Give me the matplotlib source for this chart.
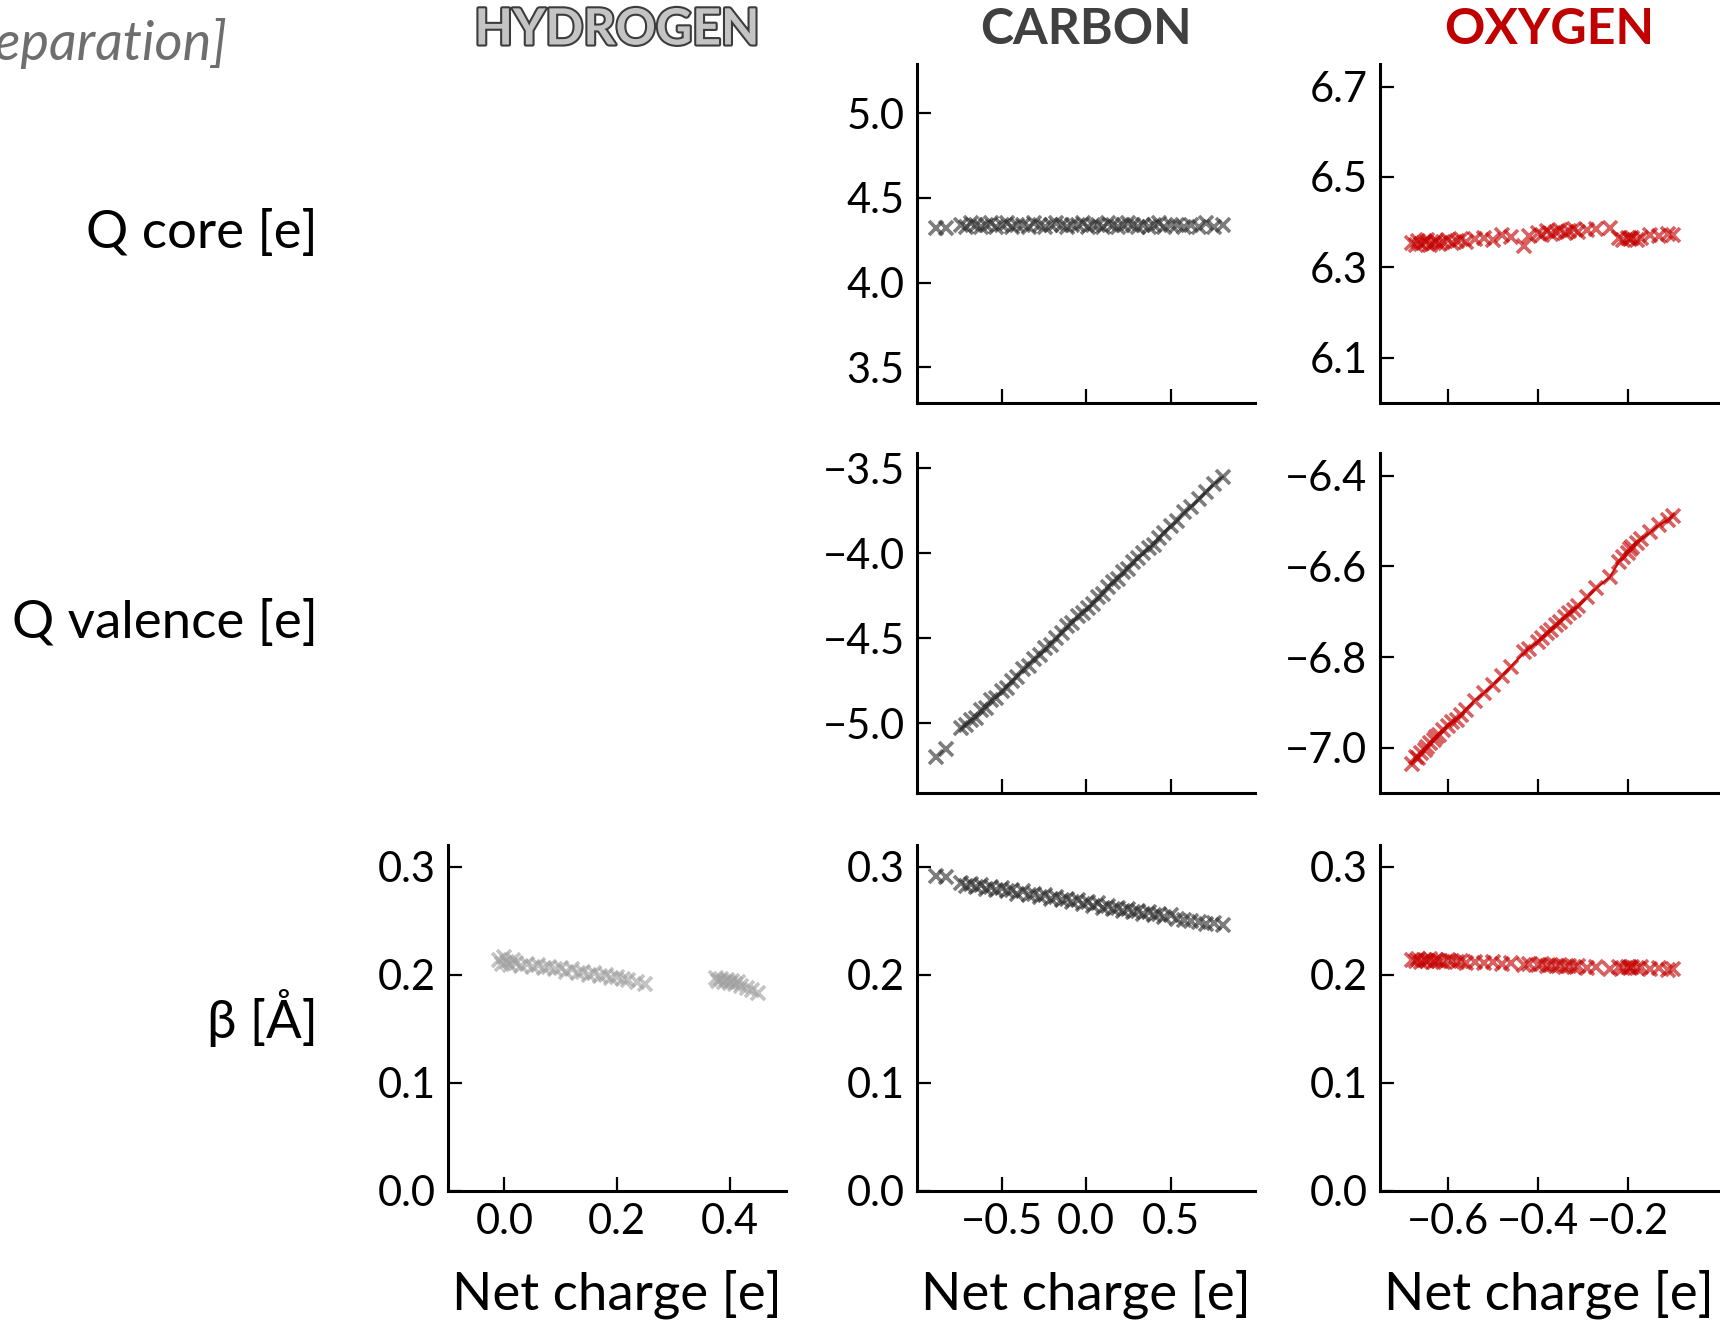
import matplotlib
matplotlib.use("Agg")
import matplotlib.pyplot as plt
import matplotlib.patheffects as pe

plt.rcParams['font.family'] = ['Lato', 'DejaVu Sans']
plt.rcParams['axes.unicode_minus'] = True

# ---- data ----
row_labels = ["Q core [e]", "Q valence [e]", "β [Å]"]
col_titles = ["HYDROGEN", "CARBON", "OXYGEN"]
xlabel = "Net charge [e]"

# hydrogen: only beta
h_q = [-0.01, -0.005, 0.0, 0.005, 0.01, 0.015, 0.02, 0.03, 0.04, 0.05, 0.06,
       0.07, 0.08, 0.09, 0.10, 0.11, 0.12, 0.13, 0.14, 0.15, 0.16,
       0.17, 0.18, 0.19, 0.20, 0.21, 0.22, 0.235, 0.25,
       0.375, 0.38, 0.385, 0.39, 0.395, 0.40, 0.405, 0.41, 0.415, 0.42,
       0.43, 0.44, 0.45]
h_beta = [0.214, 0.210, 0.216, 0.212, 0.209, 0.214, 0.211, 0.208, 0.210, 0.207, 0.209,
          0.206, 0.207, 0.205, 0.206, 0.203, 0.205, 0.202, 0.203, 0.200, 0.202,
          0.199, 0.200, 0.197, 0.198, 0.196, 0.195, 0.193, 0.191,
          0.197, 0.194, 0.196, 0.193, 0.195, 0.192, 0.194, 0.191, 0.193, 0.190,
          0.188, 0.186, 0.183]

# carbon
c_q = [-0.89, -0.83, -0.74, -0.71, -0.68, -0.65, -0.62, -0.59, -0.56, -0.53,
       -0.50, -0.47, -0.44, -0.41, -0.37, -0.34, -0.31, -0.27, -0.24, -0.21,
       -0.18, -0.14, -0.11, -0.08, -0.05, -0.02, 0.01, 0.04, 0.07, 0.10,
       0.13, 0.16, 0.19, 0.22, 0.25, 0.28, 0.31, 0.34, 0.37, 0.40,
       0.43, 0.46, 0.50, 0.54, 0.58, 0.62, 0.67, 0.71, 0.76, 0.81]
c_core = [4.32, 4.32, 4.34, 4.33, 4.35, 4.34, 4.33, 4.34, 4.35, 4.33,
          4.34, 4.35, 4.33, 4.34, 4.34, 4.33, 4.35, 4.34, 4.33, 4.34,
          4.35, 4.34, 4.33, 4.34, 4.34, 4.35, 4.33, 4.34, 4.34, 4.33,
          4.35, 4.34, 4.33, 4.34, 4.35, 4.34, 4.33, 4.34, 4.33, 4.34,
          4.35, 4.33, 4.34, 4.34, 4.33, 4.34, 4.33, 4.35, 4.33, 4.34]
c_val = [-5.20, -5.15, -5.03, -5.01, -4.98, -4.97, -4.92, -4.91, -4.86, -4.85,
         -4.81, -4.79, -4.75, -4.73, -4.68, -4.66, -4.62, -4.60, -4.56, -4.54,
         -4.50, -4.47, -4.43, -4.41, -4.37, -4.35, -4.32, -4.30, -4.26, -4.24,
         -4.20, -4.17, -4.15, -4.11, -4.09, -4.05, -4.03, -4.00, -3.97, -3.95,
         -3.91, -3.88, -3.84, -3.81, -3.76, -3.73, -3.68, -3.64, -3.59, -3.55]
c_beta = [0.291, 0.290, 0.285, 0.282, 0.284, 0.281, 0.283, 0.279, 0.281, 0.278,
          0.280, 0.277, 0.278, 0.275, 0.277, 0.274, 0.275, 0.272, 0.274, 0.270,
          0.272, 0.269, 0.270, 0.267, 0.269, 0.265, 0.267, 0.264, 0.266, 0.262,
          0.264, 0.261, 0.262, 0.259, 0.261, 0.258, 0.259, 0.256, 0.258, 0.255,
          0.256, 0.253, 0.255, 0.252, 0.251, 0.250, 0.249, 0.247, 0.248, 0.246]

# oxygen
o_q = [-0.68, -0.67, -0.665, -0.66, -0.65, -0.645, -0.64, -0.63, -0.625, -0.62,
       -0.61, -0.60, -0.59, -0.58, -0.57, -0.56,
       -0.54, -0.52, -0.50, -0.48, -0.46, -0.43, -0.42, -0.40, -0.39, -0.38,
       -0.37, -0.36, -0.35, -0.34, -0.33, -0.32, -0.31, -0.29, -0.27, -0.24,
       -0.22, -0.21, -0.20, -0.195, -0.19, -0.18, -0.17, -0.15, -0.13, -0.11, -0.10]
o_core = [6.355, 6.350, 6.358, 6.352, 6.356, 6.360, 6.350, 6.354, 6.358, 6.352,
          6.356, 6.360, 6.354, 6.358, 6.362, 6.356,
          6.362, 6.366, 6.360, 6.372, 6.368, 6.348, 6.370, 6.376, 6.372, 6.380,
          6.374, 6.378, 6.382, 6.376, 6.380, 6.384, 6.378, 6.382, 6.386, 6.388,
          6.364, 6.360, 6.366, 6.362, 6.364, 6.360, 6.366, 6.372, 6.370, 6.374, 6.372]
o_val = [-7.035, -7.020, -7.023, -7.012, -7.006, -6.998, -6.990, -6.984, -6.976, -6.972,
         -6.960, -6.952, -6.944, -6.938, -6.928, -6.916,
         -6.896, -6.880, -6.862, -6.842, -6.822, -6.790, -6.782, -6.766, -6.758, -6.748,
         -6.740, -6.730, -6.722, -6.712, -6.704, -6.696, -6.688, -6.668, -6.648, -6.624,
         -6.590, -6.580, -6.570, -6.562, -6.558, -6.548, -6.540, -6.525, -6.508, -6.497, -6.488]
o_beta = [0.214, 0.213, 0.215, 0.212, 0.214, 0.213, 0.215, 0.212, 0.214, 0.213,
          0.212, 0.214, 0.213, 0.212, 0.213, 0.211,
          0.212, 0.211, 0.212, 0.210, 0.211, 0.209, 0.210, 0.209, 0.210, 0.208,
          0.209, 0.208, 0.209, 0.207, 0.208, 0.207, 0.208, 0.206, 0.207, 0.205,
          0.207, 0.206, 0.207, 0.206, 0.207, 0.206, 0.207, 0.205, 0.206, 0.204, 0.205]

h_color = "#a0a0a0"
c_color = "#2e2e2e"
o_color = "#c40000"

# ---- layout ----
W, H = 1720, 1322
fig = plt.figure(figsize=(W / 100, H / 100), dpi=100)

col_x = [448, 917, 1380]
col_w = 338
row_y = [(64, 403), (453, 793), (845, 1191)]


def make_ax(col, row):
    y0, y1 = row_y[row]
    ax = fig.add_axes([col_x[col] / W, 1 - y1 / H, col_w / W, (y1 - y0) / H])
    for s in ["top", "right"]:
        ax.spines[s].set_visible(False)
    for s in ["left", "bottom"]:
        ax.spines[s].set_linewidth(2.2)
    ax.tick_params(direction="in", length=10, width=1.6, labelsize=30, pad=9,
                   top=False, right=False)
    ax.patch.set_alpha(0)
    return ax


def scatter(ax, x, y, color, line=None):
    if line is not None:
        ax.plot(x[line:], y[line:], "-", color=color, lw=1.6, alpha=0.85)
    ax.plot(x, y, "x", color=color, ms=10, mew=2.6, alpha=0.62, linestyle="none")


# hydrogen
ax = make_ax(0, 2)
scatter(ax, h_q, h_beta, h_color)
ax.set_xlim(-0.1, 0.5)
ax.set_xticks([0.0, 0.2, 0.4])
ax.set_ylim(0, 0.32)
ax.set_yticks([0.0, 0.1, 0.2, 0.3])

# carbon
for row, (vals, ylim, yt) in enumerate([
        (c_core, (3.29, 5.29), [3.5, 4.0, 4.5, 5.0]),
        (c_val, (-5.41, -3.41), [-5.0, -4.5, -4.0, -3.5]),
        (c_beta, (0, 0.32), [0.0, 0.1, 0.2, 0.3])]):
    ax = make_ax(1, row)
    scatter(ax, c_q, vals, c_color, line=2 if row == 1 else None)
    ax.set_xlim(-1.0, 1.0)
    ax.set_xticks([-0.5, 0.0, 0.5])
    ax.set_ylim(*ylim)
    ax.set_yticks(yt)
    if row < 2:
        ax.tick_params(labelbottom=False)

# oxygen
for row, (vals, ylim, yt) in enumerate([
        (o_core, (6.0, 6.75), [6.1, 6.3, 6.5, 6.7]),
        (o_val, (-7.10, -6.35), [-7.0, -6.8, -6.6, -6.4]),
        (o_beta, (0, 0.32), [0.0, 0.1, 0.2, 0.3])]):
    ax = make_ax(2, row)
    scatter(ax, o_q, vals, o_color, line=0 if row == 1 else None)
    ax.set_xlim(-0.75, 0.0)
    ax.set_xticks([-0.6, -0.4, -0.2])
    ax.set_ylim(*ylim)
    ax.set_yticks(yt)
    if row < 2:
        ax.tick_params(labelbottom=False)

# column titles
centers = [c + col_w / 2 for c in col_x]
fig.text(centers[0] / W, 1 - 30 / H, col_titles[0], ha="center", va="center",
         fontsize=36, fontweight="bold", color="#c4c4c4",
         path_effects=[pe.withStroke(linewidth=3, foreground="#3c3c3c")])
fig.text(centers[1] / W, 1 - 30 / H, col_titles[1], ha="center", va="center",
         fontsize=36, fontweight="bold", color="#404040")
fig.text(centers[2] / W, 1 - 30 / H, col_titles[2], ha="center", va="center",
         fontsize=36, fontweight="bold", color="#c00000")

# row labels
for (y0, y1), lab in zip(row_y, row_labels):
    fig.text(318 / W, 1 - (y0 + y1) / 2 / H, lab, ha="right", va="center",
             fontsize=38, color="black")

# x labels
for c in centers:
    fig.text(c / W, 1 - 1294 / H, xlabel, ha="center", va="center",
             fontsize=38, color="black")

# note at the top left, cut by the figure edge as in the original
fig.text(227 / W, 1 - 44 / H, "[charge separation]", ha="right", va="center",
         fontsize=39, style="italic", color="#6e6e6e")

fig.savefig("out.png", dpi=100)
